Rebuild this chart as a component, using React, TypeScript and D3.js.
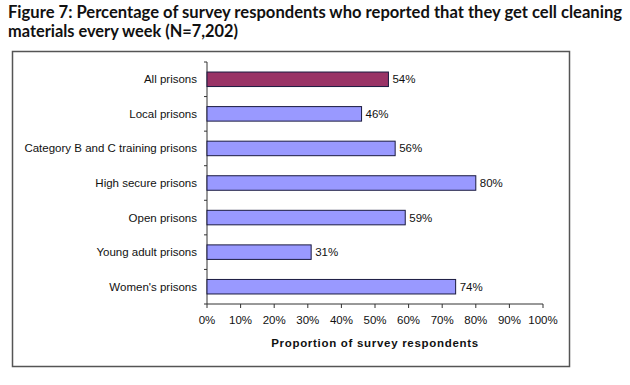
import React from "react";
import * as d3 from "d3";

const categories = [
  "All prisons",
  "Local prisons",
  "Category B and C training prisons",
  "High secure prisons",
  "Open prisons",
  "Young adult prisons",
  "Women's prisons",
];
const values = [54, 46, 56, 80, 59, 31, 74];
const xTicks = [0, 10, 20, 30, 40, 50, 60, 70, 80, 90, 100];
const titleLines = [
  "Figure 7: Percentage of survey respondents who reported that they get cell cleaning",
  "materials every week (N=7,202)",
];
const xAxisTitle = "Proportion of survey respondents";

const W = 630;
const H = 385;

export default function App() {
  const x = d3.scaleLinear().domain([0, 100]).range([207, 543]);
  const y = d3
    .scaleBand<string>()
    .domain(categories)
    .range([62, 304])
    .paddingInner(0.58)
    .paddingOuter(0.29);
  const band = (304 - 62) / categories.length;
  const font = "'Liberation Sans', Arial, sans-serif";
  const y0 = 62;
  const yEnd = 304;
  const x0 = x(0);

  return (
    <svg
      width={W}
      height={H}
      style={{ position: "absolute", left: 0, top: 0, background: "#fff" }}
    >
      <rect x={0} y={0} width={W} height={H} fill="#fff" />
      {/* Title */}
      <text
        x={8}
        y={18}
        fontFamily="Lato, 'Open Sans', sans-serif"
        fontWeight={700}
        fontSize={16.5}
        fill="#111"
        textLength={614}
        lengthAdjust="spacingAndGlyphs"
      >
        {titleLines[0]}
      </text>
      <text
        x={8}
        y={37}
        fontFamily="Lato, 'Open Sans', sans-serif"
        fontWeight={700}
        fontSize={16.5}
        fill="#111"
        textLength={230}
        lengthAdjust="spacingAndGlyphs"
      >
        {titleLines[1]}
      </text>

      {/* Frame */}
      <rect
        x={12.5}
        y={51.5}
        width={557}
        height={315}
        fill="none"
        stroke="#555"
        strokeWidth={1.5}
      />

      {/* Y axis */}
      <line x1={x0} x2={x0} y1={y0} y2={yEnd} stroke="#333" strokeWidth={1} />
      {d3.range(categories.length + 1).map((i) => (
        <line
          key={"yt" + i}
          x1={x0 - 3}
          x2={x0}
          y1={y0 + i * band}
          y2={y0 + i * band}
          stroke="#333"
        />
      ))}

      {/* X axis */}
      <line x1={x0} x2={x(100)} y1={yEnd} y2={yEnd} stroke="#333" strokeWidth={1} />
      {xTicks.map((t) => (
        <g key={"xt" + t}>
          <line x1={x(t)} x2={x(t)} y1={yEnd} y2={yEnd + 4} stroke="#333" />
          <text
            x={x(t)}
            y={yEnd + 20}
            textAnchor="middle"
            fontFamily={font}
            fontSize={11.5}
            fill="#111"
          >
            {t + "%"}
          </text>
        </g>
      ))}
      <text
        x={x(50)}
        y={347}
        textAnchor="middle"
        fontFamily={font}
        fontSize={11.5}
        fontWeight={700}
        fill="#111"
        letterSpacing={0.7}
      >
        {xAxisTitle}
      </text>

      {/* Bars */}
      {categories.map((c, i) => {
        const by = y(c)!;
        const bh = y.bandwidth();
        return (
          <g key={c}>
            <rect
              x={x0}
              y={by}
              width={x(values[i]) - x0}
              height={bh}
              fill={i === 0 ? "#993366" : "#9999FF"}
              stroke="#1a1a40"
              strokeWidth={1}
            />
            <text
              x={x(values[i]) + 4}
              y={by + bh / 2 + 4}
              fontFamily={font}
              fontSize={11.5}
              fill="#111"
            >
              {values[i] + "%"}
            </text>
            <text
              x={197}
              y={by + bh / 2 + 4}
              textAnchor="end"
              fontFamily={font}
              fontSize={11.5}
              fill="#111"
            >
              {c}
            </text>
          </g>
        );
      })}
    </svg>
  );
}
